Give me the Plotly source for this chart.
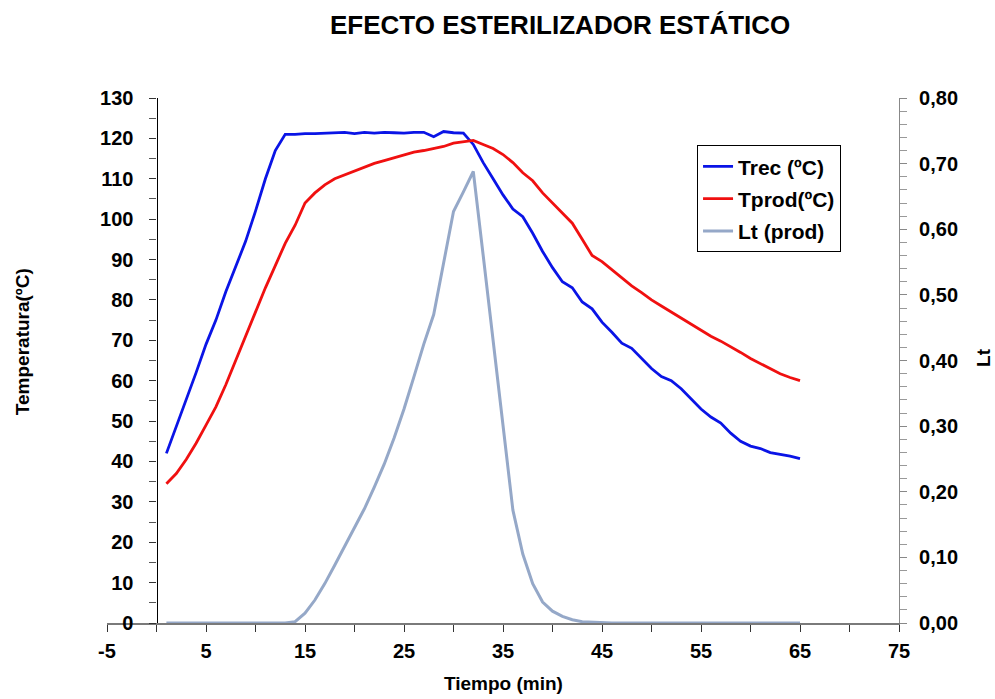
import plotly.graph_objects as go

tiempo = list(range(1, 66))

trec = [42, 48.5, 55, 62, 69, 75, 82, 88.5, 94.5, 102, 110, 117, 121, 121, 121.2,
        121.2, 121.3, 121.5, 121.5, 121.2, 121.5, 121.3, 121.5, 121.4, 121.3, 121.5, 121.5, 120.4, 121.7, 121.4,
        121.3, 118.5, 114, 110, 106, 102.5, 100.6, 96.5, 92, 88,
        84.5, 83, 79.5, 77.8, 74.5, 72, 69.3, 68, 65.5, 63,
        61, 60, 58, 55.5, 53, 51, 49.5, 47, 45, 43.8,
        43.2, 42.2, 41.8, 41.3, 40.7]

tprod = [34.5, 37, 40.5, 44.5, 49, 53.5, 59, 65, 71, 77, 83, 88.5, 94, 98.5, 104,
         106.5, 108.5, 110, 111, 112, 113, 113.8, 114.5, 115.2, 116, 116.6, 117, 117.5, 118, 118.8,
         119.2, 119.5, 118.5, 117.5, 116, 114, 111.5, 109.5, 106.5, 104,
         101.5, 99, 95, 91, 89.5, 87.5, 85.5, 83.5, 81.8, 80,
         78.5, 77, 75.5, 74, 72.5, 71, 69.8, 68.5, 67, 65.5,
         64.2, 63, 61.7, 60.8, 60]

lt = [0, 0, 0, 0, 0, 0, 0, 0, 0, 0, 0, 0, 0, 0.002, 0.015,
      0.035, 0.06, 0.088, 0.117, 0.145, 0.174, 0.207, 0.242, 0.282, 0.326, 0.375, 0.425, 0.47, 0.55, 0.627,
      0.657, 0.688, 0.56, 0.43, 0.30, 0.172, 0.105, 0.06, 0.032, 0.018,
      0.01, 0.005, 0.002, 0.001, 0, 0, 0, 0, 0, 0,
      0, 0, 0, 0, 0, 0, 0, 0, 0, 0,
      0, 0, 0, 0, 0]

x_ticks = [-5, 5, 15, 25, 35, 45, 55, 65, 75]
x_ticktext = ["-5", "5", "15", "25", "35", "45", "55", "65", "75"]
x_range = [-5, 75]
t_range = [0, 130]
lt_range = [0, 0.8]

FONT = "Liberation Sans, Arial, sans-serif"
TICKF = dict(family=FONT, size=20, color="black", weight="bold")
LEGF = dict(family=FONT, size=21, color="black", weight="bold")
TITF = dict(family=FONT, size=19, color="black")

fig = go.Figure()
fig.add_trace(go.Scatter(x=tiempo, y=trec, mode="lines", name="Trec (ºC)",
                         line=dict(color="#0a14e6", width=2.8), legendgroup="a"))
fig.add_trace(go.Scatter(x=tiempo, y=tprod, mode="lines", name="Tprod(ºC)",
                         line=dict(color="#f01010", width=2.8), legendgroup="b"))
fig.add_trace(go.Scatter(x=tiempo, y=lt, mode="lines", name="Lt (prod)", yaxis="y2",
                         line=dict(color="#95a8c8", width=3), legendgroup="c"))

fig.update_layout(
    width=995, height=699,
    margin=dict(l=107, r=96, t=98, b=76),
    paper_bgcolor="white", plot_bgcolor="white",
    separators=",.",
    font=dict(family=FONT, size=17, color="black"),
    title=dict(text="<b>EFECTO ESTERILIZADOR ESTÁTICO</b>", x=0.563, xref="container",
               y=1 - 25 / 699, yref="container", xanchor="center", yanchor="middle",
               font=dict(family=FONT, size=26, color="black")),
    xaxis=dict(range=x_range, tickmode="array", tickvals=x_ticks, ticktext=x_ticktext,
               showgrid=False, zeroline=False, showline=True, linecolor="#7a7a7a", linewidth=1.5,
               ticks="outside", ticklen=7, tickcolor="#333", tickfont=TICKF, ticklabelstandoff=2,
               minor=dict(tick0=-5, dtick=5, ticks="outside", ticklen=7, tickcolor="#333")),
    xaxis2=dict(range=x_range, overlaying="x", anchor="y", side="bottom", tickmode="array",
                tickvals=x_ticks, ticks="inside", ticklen=7, tickcolor="#333",
                showticklabels=False, showgrid=False, zeroline=False, showline=False),
    yaxis=dict(range=t_range, tickmode="linear", tick0=0, dtick=10,
               anchor="free", position=5 / 80,
               showgrid=False, zeroline=False, showline=True, linecolor="black", linewidth=1.2,
               ticks="outside", ticklen=7, tickcolor="#333", tickfont=TICKF, ticklabelstandoff=12,
               minor=dict(dtick=5, ticks="outside", ticklen=7, tickcolor="#555")),
    yaxis3=dict(range=t_range, overlaying="y", anchor="free", position=5 / 80, side="left",
                tickmode="linear", tick0=0, dtick=10, ticks="inside", ticklen=7, tickcolor="#333",
                showticklabels=False, showgrid=False, zeroline=False, showline=False),
    yaxis2=dict(range=lt_range, tickmode="linear", tick0=0, dtick=0.1, tickformat=".2f",
                overlaying="y", side="right", anchor="x",
                showgrid=False, zeroline=False, showline=True, linecolor="#888", linewidth=1.2,
                ticks="outside", ticklen=7, tickcolor="#888", tickfont=TICKF, ticklabelstandoff=8,
                minor=dict(dtick=0.02, ticks="outside", ticklen=7, tickcolor="#999")),
    legend=dict(x=0.745, y=0.91, xanchor="left", yanchor="top",
                bordercolor="black", borderwidth=1, bgcolor="white",
                font=LEGF, traceorder="grouped", tracegroupgap=2, itemwidth=30),
    showlegend=True,
    annotations=[
        dict(text="<b>Tiempo (min)</b>", x=0.5, y=-0.1143, xref="paper",
             yref="paper", showarrow=False, xanchor="center", yanchor="middle", font=TITF),
        dict(text="<b>Temperatura(ºC)</b>", x=-0.1073, y=0.535, xref="paper",
             yref="paper", showarrow=False, textangle=-90, xanchor="center", yanchor="middle",
             font=TITF),
        dict(text="<b>Lt</b>", x=1.1073, y=0.5067, xref="paper",
             yref="paper", showarrow=False, textangle=-90, xanchor="center", yanchor="middle",
             font=TITF),
    ],
)

fig.write_html("out.html", post_script="document.body.style.margin='0';",
               config={"displayModeBar": False})
